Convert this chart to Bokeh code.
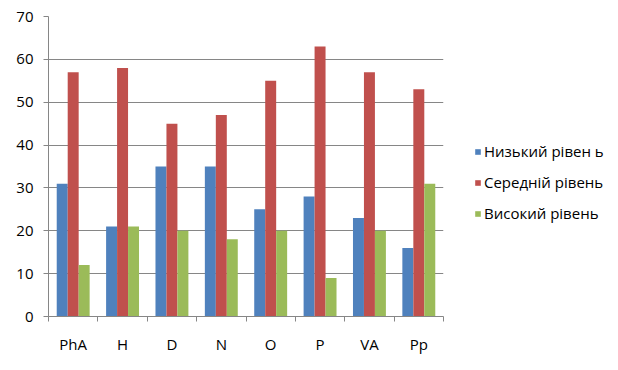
import numpy as np
from bokeh.plotting import figure
from bokeh.models import Range1d, FixedTicker, Legend, LegendItem, ColumnDataSource
from bokeh.embed import file_html
from bokeh.resources import INLINE

categories = ["PhA", "H", "D", "N", "O", "P", "VA", "Pp"]
series_names = ["Низький рівен ь", "Середній рівень", "Високий рівень"]
low = [31, 21, 35, 35, 25, 28, 23, 16]
mid = [57, 58, 45, 47, 55, 63, 57, 53]
high = [12, 21, 20, 18, 20, 9, 20, 31]
colors = ["#4F81BD", "#C0504D", "#9BBB59"]
y_ticks = [0, 10, 20, 30, 40, 50, 60, 70]

FONT = "Open Sans"
GRAY = "#868686"

p = figure(width=602, height=354, output_backend="svg", toolbar_location=None,
           x_range=Range1d(0, len(categories)), y_range=Range1d(0, 70),
           frame_width=395, frame_height=300,
           min_border_left=48, min_border_top=16, min_border_right=159, min_border_bottom=38)
p.outline_line_color = None
p.background_fill_color = "white"
p.border_fill_color = "white"

centers = np.arange(len(categories)) + 0.5
bw = 1 / 4.5
renderers = []
for k, (vals, col) in enumerate(zip([low, mid, high], colors)):
    src = ColumnDataSource(dict(x=centers + (k - 1) * bw, top=vals))
    r = p.vbar(x="x", top="top", width=bw, bottom=0, source=src,
               fill_color=col, line_color=None)
    renderers.append(r)

# x axis
p.xaxis.ticker = FixedTicker(ticks=list(centers), minor_ticks=list(range(len(categories) + 1)))
p.xaxis.major_label_overrides = {float(c): lab for c, lab in zip(centers, categories)}
p.xaxis.major_tick_out = 0
p.xaxis.major_tick_in = 0
p.xaxis.minor_tick_out = 5
p.xaxis.minor_tick_in = 0
p.xaxis.minor_tick_line_color = GRAY
p.xaxis.axis_line_color = GRAY
p.xaxis.major_label_standoff = 12
p.xaxis.major_label_text_font = FONT
p.xaxis.major_label_text_font_size = "15px"
p.xaxis.major_label_text_color = "#000000"

# y axis
p.yaxis.ticker = FixedTicker(ticks=y_ticks)
p.yaxis.major_tick_out = 5
p.yaxis.major_tick_in = 0
p.yaxis.minor_tick_line_color = None
p.yaxis.major_tick_line_color = GRAY
p.yaxis.axis_line_color = GRAY
p.yaxis.major_label_standoff = 10
p.yaxis.major_label_text_font = FONT
p.yaxis.major_label_text_font_size = "15px"
p.yaxis.major_label_text_color = "#000000"

p.xgrid.grid_line_color = None
p.ygrid.grid_line_color = GRAY
p.ygrid.grid_line_width = 1

legend = Legend(items=[LegendItem(label=n, renderers=[r]) for n, r in zip(series_names, renderers)],
                location=(31, 93), orientation="vertical",
                glyph_width=7, glyph_height=7, label_standoff=3, label_height=20,
                spacing=11, padding=10, margin=19,
                border_line_color=None, background_fill_alpha=0,
                label_text_font=FONT, label_text_font_size="15px", label_text_color="#000000")
p.add_layout(legend, "right")

open("out.html", "w").write(file_html(p, INLINE))
